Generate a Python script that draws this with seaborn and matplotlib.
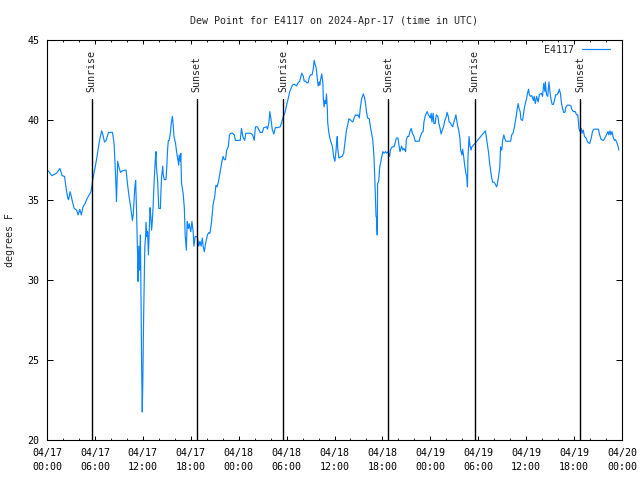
import matplotlib
matplotlib.use("Agg")
import matplotlib.pyplot as plt
from matplotlib.ticker import MultipleLocator
import seaborn as sns
import pandas as pd

# hours since 2024-04-17 00:00 UTC
hours = [
    0.16, 0.6, 1.2, 1.6, 1.9, 2.2, 2.4, 2.6, 2.7, 2.9, 3.2, 3.4, 3.7, 3.9, 4.1, 4.3, 4.5, 4.75,
    5.05, 5.35, 5.5, 5.6, 5.8, 6.0, 6.2, 6.4, 6.6, 6.85, 7.0, 7.2, 7.4, 7.7, 8.2, 8.4, 8.5,
    8.65, 8.7, 8.85, 9.0, 9.2, 9.4, 9.9, 10.1, 10.25, 10.5, 10.7, 10.8, 10.9,
    11.0, 11.1, 11.2, 11.35, 11.4, 11.5, 11.6, 11.7, 11.75, 11.85, 11.93, 12.0, 12.1, 12.2,
    12.25, 12.35, 12.4, 12.5, 12.6, 12.7, 12.75, 12.85, 12.9, 13.0, 13.1, 13.2, 13.3, 13.4,
    13.55, 13.65, 13.7, 13.85, 14.0, 14.2, 14.25, 14.35, 14.5, 14.55, 14.7, 14.9, 15.0, 15.1,
    15.2, 15.3, 15.45, 15.55, 15.7, 15.8, 15.9, 16.1, 16.2, 16.35, 16.5, 16.55, 16.7, 16.75,
    16.85, 17.05, 17.2, 17.3, 17.45, 17.55, 17.7, 17.8, 18.0, 18.15, 18.3, 18.4, 18.55, 18.75,
    18.85, 19.0, 19.15, 19.3, 19.45, 19.55, 19.7, 19.8, 19.95, 20.1, 20.25, 20.4,
    20.6, 20.8, 21.0, 21.15, 21.3, 21.5, 21.75, 21.95, 22.05, 22.2, 22.35, 22.5, 22.7, 22.85,
    23.0, 23.2, 23.45, 23.6, 23.95, 24.2, 24.35, 24.55, 24.75, 24.9, 25.1, 25.5, 25.75, 25.95,
    26.1, 26.35, 26.55, 26.7, 26.95, 27.15, 27.5, 27.6, 27.8, 27.9, 28.05, 28.2, 28.4, 28.6,
    28.95, 29.2, 29.4, 29.6,
    29.8, 30.0, 30.2, 30.4, 30.6, 30.8, 31.0, 31.25, 31.45, 31.65, 31.8, 31.9, 32.1, 32.2,
    32.4, 32.5, 32.7, 32.85, 33.0, 33.2, 33.35, 33.45, 33.6, 33.7, 33.8, 33.95, 34.1, 34.15,
    34.3, 34.4, 34.55, 34.6, 34.7, 34.8, 34.9, 35.0, 35.1, 35.15, 35.3, 35.4, 35.55, 35.7,
    35.8, 35.9, 36.05, 36.2, 36.25, 36.35, 36.4, 36.55, 36.7, 36.95, 37.15, 37.25, 37.4, 37.5,
    37.65, 37.8, 37.95, 38.15, 38.3, 38.45, 38.65, 38.8, 38.95, 39.1, 39.25, 39.4, 39.6, 39.75,
    39.9, 40.0, 40.15, 40.35, 40.5,
    40.8, 40.95, 41.05, 41.2, 41.25, 41.35, 41.4, 41.55, 41.65, 41.75, 41.9, 42.05, 42.2, 42.4,
    42.55, 42.7, 42.9, 43.0, 43.2, 43.45, 43.6, 43.75, 43.95, 44.1, 44.2, 44.4, 44.55, 44.7,
    44.9, 45.0, 45.15, 45.3, 45.45, 45.6, 45.75, 45.95, 46.1, 46.35, 46.6, 46.75, 46.95, 47.1,
    47.2, 47.35, 47.5, 47.6, 47.75, 47.9, 48.0, 48.1, 48.2, 48.35, 48.45, 48.6, 48.75, 48.95,
    49.05, 49.2, 49.35, 49.5, 49.65, 49.8, 50.0, 50.1, 50.25, 50.35, 50.5, 50.65, 50.8, 50.95,
    51.05, 51.2,
    51.4, 51.55, 51.7, 51.8, 51.95, 52.05, 52.2, 52.3, 52.45, 52.55, 52.65, 52.7, 52.85, 52.95,
    53.1, 53.2, 53.4, 54.9, 55.0, 55.15, 55.3, 55.4, 55.55, 55.65, 55.8, 55.95, 56.1, 56.3,
    56.4, 56.55, 56.7, 56.8, 56.95, 57.05, 57.2, 57.3, 57.45, 57.65, 57.85, 58.05, 58.2, 58.35,
    58.5, 58.6, 58.75, 58.85, 59.0, 59.1, 59.25, 59.35, 59.55, 59.65, 59.8, 59.9, 60.05, 60.15,
    60.3, 60.4, 60.55, 60.7, 60.9, 61.0, 61.15, 61.3, 61.5, 61.65,
    61.9, 62.05, 62.2, 62.35, 62.4, 62.55, 62.7, 62.85, 63.0, 63.1, 63.25, 63.4, 63.55, 63.7,
    63.85, 64.05, 64.15, 64.3, 64.4, 64.55, 64.7, 64.85, 64.95, 65.15, 65.45, 65.6, 65.7, 65.9,
    66.15, 66.3, 66.45, 66.55, 66.6, 66.75, 66.9, 67.0, 67.15, 67.3, 67.5, 67.7, 67.95, 68.15,
    68.3, 68.45, 68.8, 69.05, 69.2, 69.4, 69.7, 69.9, 70.05, 70.25, 70.35, 70.5, 70.6, 70.75,
    70.9, 71.05, 71.2, 71.4, 71.55, 71.6,
]

dewpoint = [
    36.8, 36.5, 36.65, 36.95, 36.5, 36.45, 35.7, 35.1, 35.0, 35.5, 34.85, 34.46, 34.35, 34.05, 34.4, 34.05, 34.55, 34.75,
    35.1, 35.35, 35.5, 35.8, 36.45, 36.95, 37.5, 38.15, 38.77, 39.3, 39.05, 38.6, 38.7, 39.2, 39.2, 38.5, 37.5,
    35.7, 34.9, 37.4, 37.05, 36.7, 36.8, 36.85, 35.9, 35.3, 34.45, 33.7, 34.1, 34.95,
    35.8, 36.2, 34.55, 31.4, 29.9, 32.1, 30.6, 32.8, 30.0, 24.6, 21.75, 23.75, 27.7, 30.4,
    32.1, 32.7, 33.6, 32.7, 33.0, 31.55, 32.3, 33.75, 34.5, 33.95, 33.1, 33.75, 34.7, 36.0,
    37.4, 38.0, 37.05, 36.2, 34.45, 34.45, 35.3, 36.45, 37.1, 36.55, 36.25, 36.25, 37.05, 38.15,
    38.7, 38.7, 39.15, 39.75, 40.2, 39.65, 38.95, 38.5, 38.1, 37.6, 37.15, 37.8, 37.4, 37.9,
    36.0, 35.4, 34.45, 32.8, 31.85, 33.65, 33.2, 33.5, 33.0, 33.65, 33.0, 32.1, 32.7, 32.7,
    32.6, 32.1, 32.4, 32.1, 32.6, 32.1, 31.75, 32.1, 32.5, 32.8, 32.95, 32.9,
    33.6, 34.7, 35.2, 35.9, 35.8, 36.2, 36.95, 37.5, 37.7, 37.5, 37.5, 38.1, 38.3, 39.05,
    39.15, 39.15, 39.05, 38.7, 38.7, 38.7, 39.45, 38.9, 38.7, 39.15, 39.15, 39.15, 39.05, 38.7,
    39.55, 39.55, 39.35, 39.2, 39.2, 39.5, 39.55, 39.4, 39.85, 40.5, 40.0, 39.4, 39.1, 39.5,
    39.5, 39.55, 39.85, 40.2,
    40.45, 40.9, 41.3, 41.75, 42.0, 42.2, 42.2, 42.1, 42.3, 42.4, 42.7, 42.9, 42.7, 42.4,
    42.4, 42.3, 42.3, 42.65, 42.8, 42.8, 43.2, 43.7, 43.4, 43.25, 42.8, 42.1, 42.35, 42.15,
    42.6, 42.85, 42.25, 41.3, 40.8, 41.2, 41.0, 41.6, 40.7, 39.8, 39.15, 38.9, 38.6, 38.4,
    38.1, 37.65, 37.4, 38.1, 38.5, 38.95, 38.2, 37.6, 37.65, 37.7, 37.9, 38.3, 38.85, 39.35,
    39.65, 40.05, 40.0, 39.9, 39.85, 40.1, 40.3, 40.25, 40.3, 40.1, 40.8, 41.3, 41.6, 41.4,
    40.95, 40.5, 40.1, 40.05, 39.55,
    38.7, 37.6, 36.25, 33.95, 33.95, 32.8, 36.0, 36.2, 37.0, 37.25, 37.6, 38.0, 37.9, 38.0,
    37.9, 38.0, 37.7, 38.1, 38.3, 38.3, 38.55, 38.85, 38.85, 38.3, 38.0, 38.35, 38.1, 38.2,
    38.0, 38.75, 38.95, 38.95, 39.25, 39.45, 39.15, 38.95, 38.65, 38.65, 38.65, 38.95, 39.2, 39.25,
    39.85, 40.2, 40.4, 40.5, 40.3, 40.2, 40.1, 40.4, 39.85, 40.4, 39.75, 39.75, 40.3, 40.2,
    39.8, 39.5, 39.1, 39.35, 39.55, 39.9, 40.2, 40.45, 40.2, 39.85, 39.8, 39.65, 39.55, 39.85,
    40.0, 40.3,
    39.65, 39.35, 38.85, 38.1, 37.8, 38.15, 37.6, 37.15, 36.65, 36.45, 35.8, 37.5, 38.95, 38.4,
    38.1, 38.3, 38.4, 39.3, 38.95, 38.4, 37.9, 37.4, 36.85, 36.45, 36.1, 36.1, 36.0, 35.8,
    36.0, 36.45, 37.05, 38.3, 38.1, 38.7, 39.05, 38.85, 38.65, 38.65, 38.65, 38.65, 39.05, 39.15,
    39.45, 39.75, 40.2, 40.6, 41.0, 40.7, 40.5, 40.0, 39.95, 40.3, 40.8, 41.0, 41.3, 41.6,
    41.9, 41.55, 41.45, 41.5, 41.2, 41.45, 41.0, 41.45, 41.1, 41.55,
    41.65, 41.45, 42.25, 41.75, 42.35, 41.55, 41.45, 42.35, 41.65, 41.3, 40.95, 40.95, 41.2, 41.55,
    41.55, 41.7, 41.9, 41.6, 41.1, 40.7, 40.45, 40.45, 40.75, 40.9, 40.9, 40.85, 40.65, 40.5,
    40.5, 40.3, 40.3, 39.85, 39.45, 39.25, 39.45, 39.15, 39.35, 38.95, 38.85, 38.6, 38.5, 38.85,
    39.25, 39.4, 39.4, 39.4, 39.05, 38.75, 38.7, 38.9, 39.05, 39.25, 39.05, 39.3, 39.05, 39.25,
    38.9, 38.7, 38.75, 38.5, 38.25, 38.1,
]

# sun events, hours since 04/17 00:00 UTC
sun_hours = [5 + 37/60, 18 + 44/60, 24 + 5 + 35/60, 24 + 18 + 45/60, 48 + 5 + 34/60, 48 + 18 + 46/60]
sun_labels = ["Sunrise", "Sunset", "Sunrise", "Sunset", "Sunrise", "Sunset"]

tick_hours = list(range(0, 73, 6))
tick_labels = ["04/17\n00:00", "04/17\n06:00", "04/17\n12:00", "04/17\n18:00",
               "04/18\n00:00", "04/18\n06:00", "04/18\n12:00", "04/18\n18:00",
               "04/19\n00:00", "04/19\n06:00", "04/19\n12:00", "04/19\n18:00",
               "04/20\n00:00"]
y_ticks = [20, 25, 30, 35, 40, 45]

series_name = "E4117"
title = "Dew Point for E4117 on 2024-Apr-17 (time in UTC)"

sns.set_style("white")
plt.rcParams["font.family"] = ["DejaVu Sans Mono"]
FS = 7.2

df = pd.DataFrame({"hour": hours, "dewpoint": dewpoint, "station": series_name})

fig = plt.figure(figsize=(6.4, 4.8), dpi=100)
ax = fig.add_axes([47 / 640, 40 / 480, 575 / 640, 400.5 / 480])

sns.lineplot(data=df, x="hour", y="dewpoint", hue="station", palette=["#0b84ff"],
             linewidth=0.85, ax=ax, sort=False, estimator=None)

for h, lab in zip(sun_hours, sun_labels):
    ax.axvline(h, ymin=0, ymax=0.851, color="black", lw=1.0, zorder=3)
    ax.text(h, 0.869, lab, rotation=90, ha="center", va="bottom", fontsize=FS,
            transform=ax.get_xaxis_transform())

ax.set_xlim(0, 72)
ax.set_ylim(20, 45)
ax.set_xticks(tick_hours)
ax.set_xticklabels(tick_labels, fontsize=FS, linespacing=1.45)
ax.xaxis.set_minor_locator(MultipleLocator(2))
ax.set_yticks(y_ticks)
ax.set_yticklabels([str(v) for v in y_ticks], fontsize=FS)

ax.tick_params(axis="x", which="major", direction="in", top=True, bottom=True,
               length=3.0, width=0.7, pad=6, colors="black")
ax.tick_params(axis="x", which="minor", direction="in", top=True, bottom=True,
               length=1.6, width=0.7)
ax.tick_params(axis="y", which="major", direction="in", left=True, right=True,
               length=4.3, width=0.7, pad=5.5, colors="black")

for sp in ax.spines.values():
    sp.set_visible(True)
    sp.set_color("black")
    sp.set_linewidth(0.8)

ax.set_xlabel("")
ax.set_ylabel("degrees F", fontsize=FS, labelpad=9)
ax.set_title(title, fontsize=FS, pad=11.5)

ax.legend(loc="upper right", bbox_to_anchor=(0.986, 0.997), frameon=False,
          markerfirst=False, handlelength=2.8, handletextpad=0.8, fontsize=FS,
          borderaxespad=0)

fig.savefig("out.png", dpi=100)
